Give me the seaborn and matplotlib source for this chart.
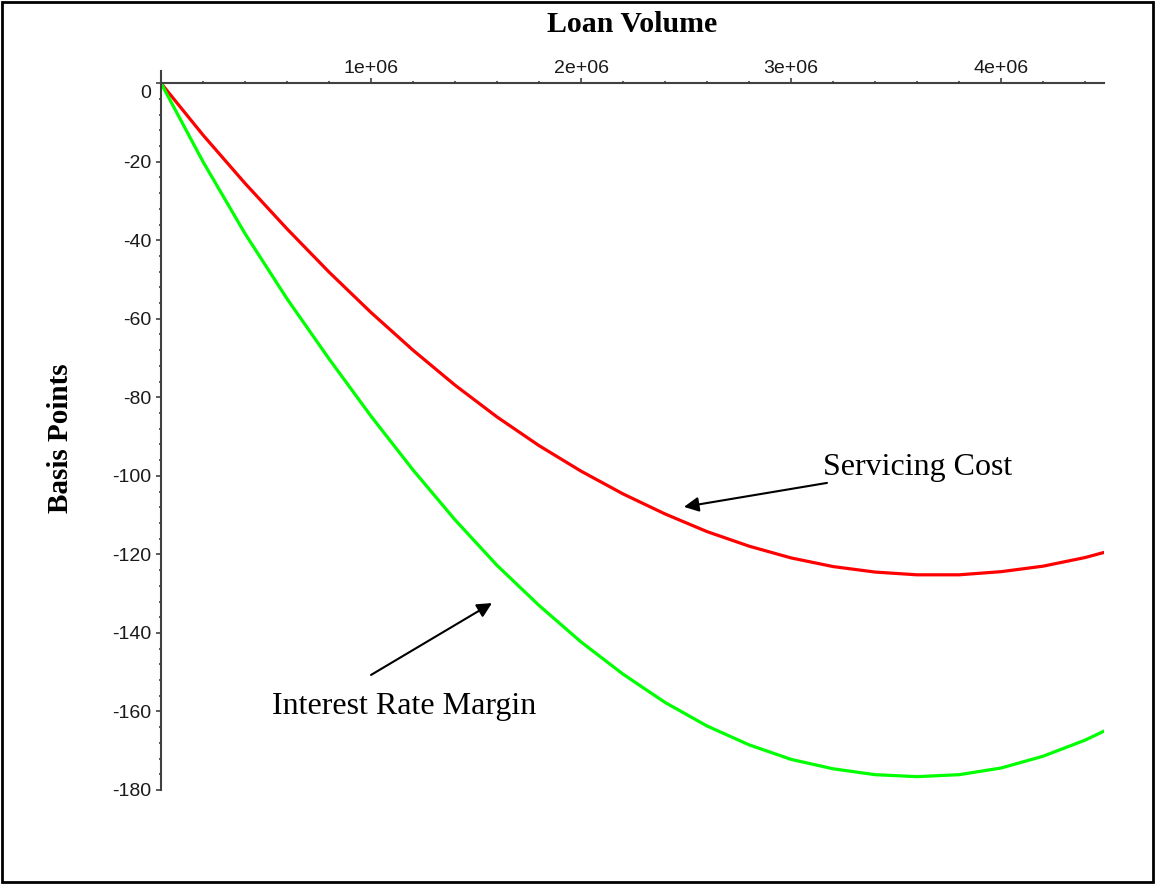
import matplotlib
matplotlib.use("Agg")
import matplotlib.pyplot as plt
import matplotlib.ticker as mticker
import matplotlib.transforms as mtransforms
from matplotlib.patches import Rectangle
import seaborn as sns
import pandas as pd

# ---- data ----
loan_volume = [0, 0.2e6, 0.4e6, 0.6e6, 0.8e6, 1.0e6, 1.2e6, 1.4e6, 1.6e6, 1.8e6,
               2.0e6, 2.2e6, 2.4e6, 2.6e6, 2.8e6, 3.0e6, 3.2e6, 3.4e6, 3.6e6,
               3.8e6, 4.0e6, 4.2e6, 4.4e6, 4.49e6]
servicing_cost = [0, -13.2, -25.5, -37.1, -48.1, -58.4, -68.0, -76.9, -85.0,
                  -92.3, -98.8, -104.6, -109.7, -114.2, -117.9, -120.9, -123.1,
                  -124.5, -125.2, -125.2, -124.4, -123.0, -120.8, -119.5]
interest_rate_margin = [0, -20.0, -38.3, -54.9, -70.2, -84.8, -98.5, -111.2,
                        -122.8, -133.0, -142.3, -150.5, -157.7, -163.7, -168.5,
                        -172.2, -174.6, -176.1, -176.6, -176.1, -174.4, -171.4,
                        -167.3, -165.0]
x_ticks = [1e6, 2e6, 3e6, 4e6]
y_ticks = [0, -20, -40, -60, -80, -100, -120, -140, -160, -180]
series_names = ["Servicing Cost", "Interest Rate Margin"]
series_colors = ["#ff0000", "#00ff00"]

df = pd.DataFrame({
    "Loan Volume": loan_volume * 2,
    "Basis Points": servicing_cost + interest_rate_margin,
    "series": [series_names[0]] * len(loan_volume) + [series_names[1]] * len(loan_volume),
})

sns.set_style("white")
plt.rcParams["font.family"] = ["Liberation Sans", "DejaVu Sans"]
plt.rcParams["axes.unicode_minus"] = False
plt.rcParams["text.color"] = "black"

W, H = 1155, 884
fig = plt.figure(figsize=(W / 100, H / 100), dpi=100)
ax = fig.add_axes([161 / W, 1 - 790 / H, 943 / W, 719 / H])

sns.lineplot(data=df, x="Loan Volume", y="Basis Points", hue="series",
             palette=dict(zip(series_names, series_colors)), linewidth=2.3,
             legend=False, ax=ax)

ax.set_xlim(0, 4.49e6)
ax.set_ylim(-180, 3.1)
ax.set_xlabel("")
ax.set_ylabel("")

axis_col = "#404040"
ax.spines["top"].set_position(("data", 0))
ax.spines["bottom"].set_visible(False)
ax.spines["right"].set_visible(False)
for s in ("top", "left"):
    ax.spines[s].set_color(axis_col)
    ax.spines[s].set_linewidth(1.5)
ax.xaxis.set_ticks_position("top")
ax.yaxis.set_ticks_position("left")

ax.set_xticks(x_ticks)
ax.xaxis.set_major_formatter(mticker.FuncFormatter(lambda v, p: "{:.0e}".format(v)))
ax.xaxis.set_minor_locator(mticker.MultipleLocator(2e5))
ax.set_yticks(y_ticks)
ax.yaxis.set_major_formatter(mticker.FuncFormatter(lambda v, p: "%d" % round(v)))
ax.yaxis.set_minor_locator(mticker.MultipleLocator(4))

ax.tick_params(axis="both", which="major", direction="out", length=3.6, width=1.2,
               color=axis_col, labelsize=14, labelcolor="#1a1a1a")
ax.tick_params(axis="x", which="major", pad=1)
ax.tick_params(axis="y", which="major", pad=3.5)
ax.tick_params(axis="both", which="minor", direction="out", length=1.8, width=1.2,
               color=axis_col)

# shift the "0" label down like the reference
for lab in ax.get_yticklabels():
    if lab.get_text() == "0":
        lab.set_transform(lab.get_transform() +
                          mtransforms.ScaledTranslation(0, -8 / 100, fig.dpi_scale_trans))

serif = ["Liberation Serif", "DejaVu Serif"]
fig.text(632.5 / W, 1 - 24 / H, "Loan Volume", ha="center", va="center",
         fontsize=21.5, fontweight="bold", family=serif, color="black")
fig.text(60 / W, 1 - 438 / H, "Basis Points", ha="center", va="center",
         rotation=90, fontsize=21, fontweight="bold", family=serif, color="black")

arrow_kw = dict(arrowstyle="-|>", color="black", lw=1.5, mutation_scale=22,
                shrinkA=0, shrinkB=0)
ax.annotate("", xy=(2.49e6, -107.9), xytext=(3.171e6, -101.8), arrowprops=arrow_kw)
ax.text(3.152e6, -99.7, series_names[0], ha="left", va="baseline",
        fontsize=23, family=serif, color="black")
ax.annotate("", xy=(1.576e6, -132.4), xytext=(1.0e6, -150.7), arrowprops=arrow_kw)
ax.text(0.529e6, -160.6, series_names[1], ha="left", va="baseline",
        fontsize=23, family=serif, color="black")

fig.patches.append(Rectangle((0.0015, 0.002), 0.997, 0.996, transform=fig.transFigure,
                             fill=False, edgecolor="black", linewidth=2.0))

fig.savefig("out.png", dpi=100)
